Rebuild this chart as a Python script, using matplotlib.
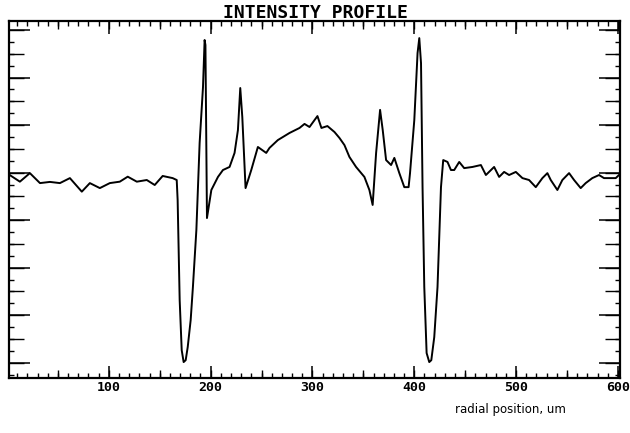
import matplotlib
matplotlib.use("Agg")
import matplotlib.pyplot as plt
from matplotlib.ticker import MultipleLocator, FixedLocator, NullFormatter, FuncFormatter

# ---- data ----
radial_um = [
    2.0, 12.7, 22.5, 32.4, 42.2, 52.0, 61.8, 73.5, 81.4, 91.2,
    101.0, 110.8, 118.6, 127.5, 137.3, 145.1, 152.9, 162.7, 166.7, 167.6,
    169.6, 171.6, 173.5, 175.5, 177.5, 180.4, 182.6, 186.0, 189.2, 192.5,
    194.1, 194.9, 196.4, 200.7, 207.2, 212.1, 218.6, 223.5, 226.8, 229.1,
    231.1, 234.3, 239.9, 246.4, 254.6, 257.8, 266.0, 277.5, 287.3, 292.2,
    297.1, 302.0, 304.9, 308.8, 314.7, 321.6, 326.5, 331.4, 336.3, 342.8,
    351.0, 355.9, 359.1, 362.5, 366.4, 369.0, 372.3, 377.2, 380.4, 385.3,
    390.2, 394.4, 395.8, 400.0, 403.2, 404.9, 406.6, 408.1, 409.8, 412.1,
    414.7, 416.7, 419.6, 422.8, 426.2, 428.4, 432.6, 436.0, 439.2, 444.1,
    449.0, 457.2, 465.4, 470.3, 478.4, 483.3, 488.2, 493.1, 499.7, 506.2,
    512.7, 519.3, 525.8, 530.7, 534.0, 540.5, 545.4, 552.0, 556.9, 563.4,
    568.3, 574.8, 581.4, 586.3, 597.8, 601.0,
]
intensity = [
    7.92, 7.62, 7.98, 7.56, 7.61, 7.56, 7.77, 7.20, 7.56, 7.35,
    7.56, 7.62, 7.83, 7.62, 7.69, 7.48, 7.86, 7.77, 7.69, 6.85,
    2.64, 0.53, 0.03, 0.11, 0.66, 1.80, 3.19, 5.59, 9.25, 11.60,
    13.58, 13.37, 6.09, 7.27, 7.82, 8.11, 8.24, 8.83, 9.79, 11.56,
    10.34, 7.35, 8.11, 9.08, 8.83, 9.04, 9.37, 9.67, 9.88, 10.05,
    9.92, 10.21, 10.38, 9.88, 9.96, 9.71, 9.46, 9.16, 8.66, 8.24,
    7.82, 7.27, 6.64, 8.83, 10.64, 9.79, 8.53, 8.32, 8.62, 7.98,
    7.39, 7.39, 7.98, 10.21, 13.03, 13.66, 12.61, 7.39, 3.19, 0.41,
    0.03, 0.11, 1.08, 3.19, 7.39, 8.53, 8.45, 8.11, 8.11, 8.45,
    8.19, 8.24, 8.32, 7.90, 8.24, 7.82, 8.03, 7.90, 8.03, 7.77,
    7.69, 7.39, 7.77, 7.98, 7.69, 7.27, 7.69, 7.98, 7.69, 7.35,
    7.56, 7.77, 7.90, 7.77, 7.77, 7.90,
]
x_tick_values = [100, 200, 300, 400, 500, 600]
title_text = "INTENSITY PROFILE"
xlabel_text = "radial position, um"

# ---- figure ----
fig = plt.figure(figsize=(6.3, 4.33), dpi=100)
ax = fig.add_axes([9 / 630, 1 - 378 / 433, (620 - 9) / 630, (378 - 21) / 433])

ax.plot(radial_um, intensity, color="black", lw=1.4, solid_joinstyle="round")

ax.set_xlim(2, 602)
ax.set_ylim(-0.64, 14.38)

for s in ax.spines.values():
    s.set_linewidth(1.6)

mono = {"family": "DejaVu Sans Mono", "weight": "bold"}

# major / minor ticks
ax.xaxis.set_major_locator(FixedLocator(x_tick_values))
ax.xaxis.set_minor_locator(MultipleLocator(10))
ax.yaxis.set_major_locator(MultipleLocator(2))
ax.yaxis.set_minor_locator(MultipleLocator(0.5))
ax.yaxis.set_major_formatter(NullFormatter())
ax.tick_params(axis="x", which="major", direction="in", length=9, width=1.1,
               top=True, bottom=True, pad=2, labelsize=9.5)
ax.tick_params(axis="x", which="minor", direction="in", length=3.5, width=1.0,
               top=True, bottom=True)
ax.tick_params(axis="y", which="major", direction="in", length=15, width=1.1,
               left=True, right=True)
ax.tick_params(axis="y", which="minor", direction="in", length=3.8, width=1.0,
               left=True, right=True)
for lab in ax.get_xticklabels():
    lab.set_fontfamily("DejaVu Sans Mono")
    lab.set_fontweight("bold")

# medium ticks via secondary axes
for loc in ("bottom", "top"):
    sec = ax.secondary_xaxis(loc)
    sec.xaxis.set_major_locator(MultipleLocator(50))
    sec.xaxis.set_major_formatter(NullFormatter())
    sec.tick_params(direction="in", length=6, width=1.0)
    for s in sec.spines.values():
        s.set_visible(False)
for loc in ("left", "right"):
    sec = ax.secondary_yaxis(loc)
    sec.yaxis.set_major_locator(MultipleLocator(1))
    sec.yaxis.set_major_formatter(NullFormatter())
    sec.tick_params(direction="in", length=11, width=1.0)
    for s in sec.spines.values():
        s.set_visible(False)

fig.text(315 / 630, 1 - 13 / 433, title_text, ha="center", va="center",
         fontsize=13, **mono)
fig.text(510 / 630, 1 - 410 / 433, xlabel_text, ha="center", va="center",
         fontsize=8.5, family="DejaVu Sans")

fig.savefig("out.png", dpi=100)
